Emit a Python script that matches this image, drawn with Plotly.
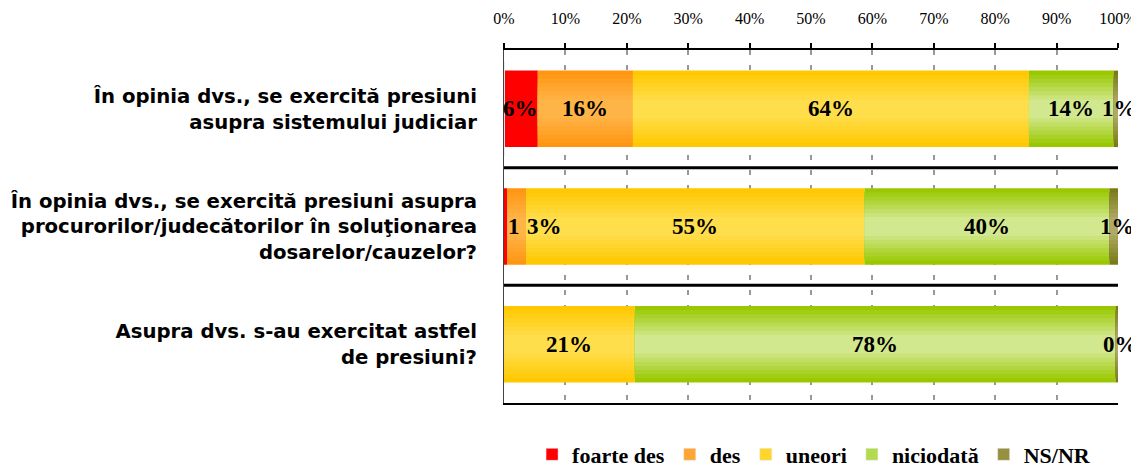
import plotly.graph_objects as go

questions = [
    "În opinia dvs., se exercită presiuni<br>asupra sistemului judiciar",
    "În opinia dvs., se exercită presiuni asupra<br>procurorilor/judecătorilor în soluţionarea<br>dosarelor/cauzelor?",
    "Asupra dvs. s-au exercitat astfel<br>de presiuni?",
]
series = ["foarte des", "des", "uneori", "niciodată", "NS/NR"]

# widths of the segments (%)
foarte_des = [5.5, 0.5, 0.0]
des = [15.5, 3.1, 0.0]
uneori = [64.5, 55.1, 21.3]
niciodata = [13.8, 39.9, 78.3]
ns_nr = [0.7, 1.4, 0.4]

# data labels as printed on the chart
lbl_foarte_des = ["6%", "1", ""]
lbl_des = ["16%", "3%", ""]
lbl_uneori = ["64%", "55%", "21%"]
lbl_niciodata = ["14%", "40%", "78%"]
lbl_ns_nr = ["1%", "1%", "0%"]

values = [foarte_des, des, uneori, niciodata, ns_nr]
labels = [lbl_foarte_des, lbl_des, lbl_uneori, lbl_niciodata, lbl_ns_nr]

# edge colour -> centre colour (fake the Excel gradient with nested bars)
edge_cols = ["#FF0000", "#FF9612", "#FFC800", "#99C800", "#7A7A18"]
mid_cols = ["#FF0000", "#FFB448", "#FFDE4C", "#D2E88E", "#B0AA66"]
legend_cols = ["#FF0000", "#FFA533", "#FFD52A", "#B4DA50", "#969040"]

def mix(c1, c2, t):
    a = [int(c1[i:i + 2], 16) for i in (1, 3, 5)]
    b = [int(c2[i:i + 2], 16) for i in (1, 3, 5)]
    return "#%02x%02x%02x" % tuple(round(a[k] + (b[k] - a[k]) * t) for k in range(3))

widths = [0.65, 0.58, 0.51, 0.44, 0.37, 0.30, 0.23, 0.16]

fig = go.Figure()
bases = [0.0, 0.0, 0.0]
for s, name in enumerate(series):
    vals = values[s]
    for j, w in enumerate(widths):
        t = j / (len(widths) - 1)
        fig.add_trace(go.Bar(
            y=questions, x=vals, base=bases, orientation="h", width=w,
            marker=dict(color=mix(edge_cols[s], mid_cols[s], t), line=dict(width=0)),
            name=name, legendgroup=name, showlegend=False, hoverinfo="skip",
        ))
    # legend entry
    fig.add_trace(go.Bar(
        y=[questions[0]], x=[0], base=[0], orientation="h",
        marker=dict(color=legend_cols[s]), name=name, legendgroup=name,
        showlegend=True, hoverinfo="skip",
    ))
    for i, q in enumerate(questions):
        if labels[s][i]:
            shift = 4 if s == 4 else 0
            if (s, i) == (0, 1):
                shift = 8
            if (s, i) == (1, 1):
                shift = 28
            fig.add_annotation(
                x=bases[i] + vals[i] / 2, y=q, text=labels[s][i],
                showarrow=False, xshift=shift,
                font=dict(family="Liberation Serif", size=23, color="black", weight="bold"),
            )
    bases = [bases[i] + vals[i] for i in range(3)]

for yy in [0.5, 1.5]:
    fig.add_shape(type="line", xref="x", yref="y", x0=0, x1=100, y0=yy, y1=yy,
                  line=dict(color="black", width=3))

# page body has an 8px margin, so the figure is a bit smaller and shifted
fig.update_layout(
    barmode="overlay",
    width=1131, height=462,
    margin=dict(l=496, r=21, t=42, b=67, autoexpand=False),
    paper_bgcolor="white", plot_bgcolor="white",
    showlegend=True,
    legend=dict(orientation="h", x=0.505, xanchor="center",
                y=-0.146, yanchor="middle",
                font=dict(family="Liberation Serif", size=22, color="black", weight="bold"),
                itemwidth=30, tracegroupgap=0),
    xaxis=dict(
        side="top", range=[0, 100], tickvals=list(range(0, 101, 10)),
        ticktext=[f"{v}%" for v in range(0, 101, 10)],
        tickfont=dict(family="Liberation Serif", size=16, color="black"),
        showline=True, linecolor="black", linewidth=2, mirror=True,
        ticks="outside", ticklen=5, tickcolor="black", tickwidth=2,
        showgrid=True, gridcolor="#999999", gridwidth=2, griddash="5px,10px",
        zeroline=False, ticklabelstandoff=13, automargin=False,
    ),
    yaxis=dict(
        autorange="reversed", showline=True, linecolor="#444444", linewidth=1,
        tickfont=dict(family="DejaVu Sans", size=19.7, color="black", weight="bold"),
        ticks="", ticklabelstandoff=22, showgrid=False, automargin=False,
    ),
)

fig.write_html("out.html")
